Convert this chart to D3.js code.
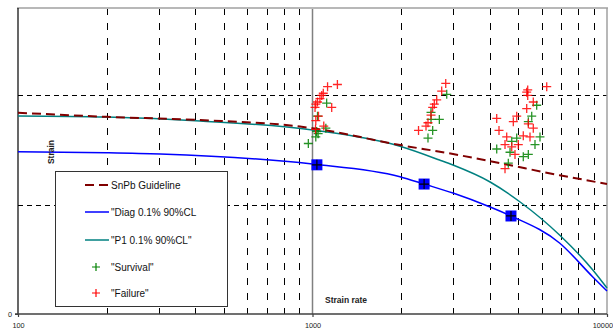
<!DOCTYPE html>
<html><head><meta charset="utf-8">
<script src="https://cdn.jsdelivr.net/npm/d3@7"></script>
<style>body{margin:0;background:#fff}svg{display:block}text{font-family:"Liberation Sans",Arial,sans-serif}</style>
</head><body><svg id="c" width="613" height="330"></svg>
<script>
// ---- data ----
const xTickValues = [100, 1000, 10000];
const xTickLabels = ["100", "1000", "10000"];
const minorRates = [200,300,400,500,600,700,800,900,2000,3000,4000,5000,6000,7000,8000,9000];
const yGridValues = [1, 2];
const yTickLabels = ["0"];

const guideRate   = [100, 200, 415, 907, 1000, 1982, 3000, 4330, 6900, 10000];
const guideStrain = [1.842, 1.804, 1.775, 1.715, 1.70, 1.546, 1.464, 1.38, 1.27, 1.19];

const p1Rate   = [100, 200, 415, 1000, 1982, 2700, 3000, 4010, 5070, 6900, 8950, 10000];
const p1Strain = [1.812, 1.802, 1.766, 1.683, 1.535, 1.409, 1.363, 1.208, 1.025, 0.723, 0.403, 0.238];

const diagRate   = [100, 200, 304, 1000, 1982, 2393, 3000, 4010, 4720, 6900, 8950, 10000];
const diagStrain = [1.485, 1.476, 1.464, 1.372, 1.256, 1.189, 1.107, 0.979, 0.897, 0.650, 0.339, 0.210];

const diagPtRate   = [1035, 2393, 4720];
const diagPtStrain = [1.365, 1.189, 0.897];

const survRate   = [1117,1040,1110,1033,1026,968,1045, 2856,2526,2526,2696,2559,2467,
                    5771,5551,5406,5922,4937,4748,5695,4222,4685,5406,5197,4623];
const survStrain = [1.93,1.81,1.70,1.67,1.62,1.56,1.65, 2.01,1.845,1.78,1.78,1.68,1.61,
                    1.91,1.81,1.76,1.62,1.61,1.58,1.55,1.51,1.48,1.46,1.44,1.38];

const failRate   = [1215,1125,1088,1075,1060,1040,1026,1020,1162,1048,1026,1092,1024,
                    2834,2746,2641,2592,2559,2526,2467,2429,2291,
                    6242,5380,5338,5380,5620,5338,4222,4937,4807,5406,5620,4298,4565,5197,5477,4505,4998,4748,4871,4505];
const failStrain = [2.10,2.08,2.02,2.00,1.97,1.94,1.92,1.89,1.89,1.81,1.77,1.72,1.69,
                    2.11,2.04,1.96,1.92,1.89,1.82,1.75,1.72,1.68,
                    2.08,2.05,2.03,2.00,1.94,1.88,1.79,1.81,1.76,1.74,1.70,1.68,1.62,1.63,1.62,1.55,1.55,1.53,1.46,1.33];

const legendLabels = ["SnPb Guideline", "\"Diag 0.1% 90%CL", "\"P1 0.1% 90%CL\"", "\"Survival\"", "\"Failure\""];

// ---- chart ----
const svg = d3.select("#c");
const L = 18, R = 607, T = 8, B = 314;
const x = d3.scaleLog().domain([100, 10000]).range([L, R]);
const y = d3.scaleLinear().domain([0, 2.8]).range([B, T]);

// minor vertical gridlines
svg.append("g").selectAll("line").data(minorRates).join("line")
  .attr("x1", d => Math.round(x(d)) + 0.5).attr("x2", d => Math.round(x(d)) + 0.5)
  .attr("y1", T).attr("y2", B)
  .attr("stroke", "#000").attr("stroke-width", 1).attr("stroke-dasharray", "7,8");
// horizontal gridlines
svg.append("g").selectAll("line").data(yGridValues).join("line")
  .attr("x1", L).attr("x2", R)
  .attr("y1", d => Math.round(y(d)) + 0.5).attr("y2", d => Math.round(y(d)) + 0.5)
  .attr("stroke", "#000").attr("stroke-width", 1).attr("stroke-dasharray", "5,4");
// major vertical at 1000
svg.append("line").attr("x1", x(1000)).attr("x2", x(1000)).attr("y1", T).attr("y2", B)
  .attr("stroke", "#808080").attr("stroke-width", 1.5);
// top & right border
svg.append("line").attr("x1", L - 1).attr("x2", R + 1).attr("y1", T).attr("y2", T)
  .attr("stroke", "#b8b8b8").attr("stroke-width", 2);
svg.append("line").attr("x1", R).attr("x2", R).attr("y1", T).attr("y2", B)
  .attr("stroke", "#a0a0a0").attr("stroke-width", 1.5);
// left axis
svg.append("line").attr("x1", L).attr("x2", L).attr("y1", T).attr("y2", B)
  .attr("stroke", "#000").attr("stroke-width", 1.2);

// bottom axis
const xAxis = d3.axisBottom(x).tickValues(xTickValues).tickFormat((d, i) => xTickLabels[i]).tickSize(3).tickPadding(6);
const gx = svg.append("g").attr("transform", `translate(0,${B})`).call(xAxis);
gx.select(".domain").attr("stroke", "#404040").attr("stroke-width", 1.5).attr("d", `M${L - 3},0H${R}`);
gx.selectAll(".tick line").attr("stroke", "#404040").attr("stroke-width", 1.2);
gx.selectAll(".tick text").attr("font-size", 7.3).attr("fill", "#222").attr("font-family", "Liberation Sans, Arial, sans-serif");
// keep the last label inside the picture
gx.selectAll(".tick text").filter(d => d === 10000).attr("text-anchor", "end").attr("x", 612.5 - x(10000));

// y axis label "0"
const yAxis = d3.axisLeft(y).tickValues([0]).tickFormat((d, i) => yTickLabels[i]).tickSize(3).tickPadding(3);
const gy = svg.append("g").attr("transform", `translate(${L},0)`).call(yAxis);
gy.select(".domain").remove();
gy.selectAll(".tick line").attr("stroke", "#404040");
gy.selectAll(".tick text").attr("font-size", 7.3).attr("fill", "#222").attr("font-family", "Liberation Sans, Arial, sans-serif");

// curves
const mkLine = d3.line().x(d => x(d[0])).y(d => y(d[1])).curve(d3.curveMonotoneX);
const zip = (a, b) => a.map((v, i) => [v, b[i]]);

svg.append("path").attr("d", mkLine(zip(p1Rate, p1Strain)))
  .attr("fill", "none").attr("stroke", "#008080").attr("stroke-width", 1.5);
svg.append("path").attr("d", mkLine(zip(diagRate, diagStrain)))
  .attr("fill", "none").attr("stroke", "#0000ff").attr("stroke-width", 1.5);
svg.append("path").attr("d", mkLine(zip(guideRate, guideStrain)))
  .attr("fill", "none").attr("stroke", "#800000").attr("stroke-width", 2).attr("stroke-dasharray", "9,5");

// diag markers
const dm = svg.append("g").selectAll("g").data(zip(diagPtRate, diagPtStrain)).join("g")
  .attr("transform", d => `translate(${x(d[0])},${y(d[1])})`);
dm.append("rect").attr("x", -5.5).attr("y", -5.5).attr("width", 11).attr("height", 11).attr("fill", "#0000ff");
dm.append("path").attr("d", "M-5,0H5M0,-5V5").attr("stroke", "#000").attr("stroke-width", 1.2);

// crosses
function crosses(rates, strains, color) {
  svg.append("g").selectAll("path").data(zip(rates, strains)).join("path")
    .attr("d", d => `M${x(d[0]) - 4.5},${y(d[1])}H${x(d[0]) + 4.5}M${x(d[0])},${y(d[1]) - 4.5}V${y(d[1]) + 4.5}`)
    .attr("stroke", color).attr("stroke-width", 1.3).attr("opacity", 0.85).attr("fill", "none");
}
crosses(survRate, survStrain, "#008000");
crosses(failRate, failStrain, "#ff0000");

// axis titles
svg.append("text").attr("transform", "translate(54,152) rotate(-90)").attr("text-anchor", "middle")
  .attr("font-size", 8.5).attr("font-weight", "bold").attr("fill", "#222").text("Strain");
svg.append("text").attr("x", 325).attr("y", 303).attr("font-size", 8.5).attr("font-weight", "bold")
  .attr("fill", "#222").text("Strain rate");

// legend
const lg = svg.append("g");
lg.append("rect").attr("x", 55.5).attr("y", 171.5).attr("width", 172).attr("height", 135)
  .attr("fill", "#fff").attr("stroke", "#333").attr("stroke-width", 1);
const rowsY = [185, 212, 240, 267, 293];
lg.append("line").attr("x1", 85).attr("x2", 109).attr("y1", rowsY[0]).attr("y2", rowsY[0])
  .attr("stroke", "#800000").attr("stroke-width", 2).attr("stroke-dasharray", "9,5");
lg.append("line").attr("x1", 85).attr("x2", 109).attr("y1", rowsY[1]).attr("y2", rowsY[1])
  .attr("stroke", "#0000ff").attr("stroke-width", 1.5);
lg.append("line").attr("x1", 85).attr("x2", 109).attr("y1", rowsY[2]).attr("y2", rowsY[2])
  .attr("stroke", "#008080").attr("stroke-width", 1.5);
lg.append("path").attr("d", `M92,${rowsY[3]}H100M96,${rowsY[3] - 4}V${rowsY[3] + 4}`).attr("stroke", "#008000").attr("stroke-width", 1.2);
lg.append("path").attr("d", `M92,${rowsY[4]}H100M96,${rowsY[4] - 4}V${rowsY[4] + 4}`).attr("stroke", "#ff0000").attr("stroke-width", 1.2);
lg.selectAll("text").data(legendLabels).join("text")
  .attr("x", 111).attr("y", (d, i) => rowsY[i] + 3.5).attr("font-size", 10).attr("fill", "#111").text(d => d);
</script></body></html>
